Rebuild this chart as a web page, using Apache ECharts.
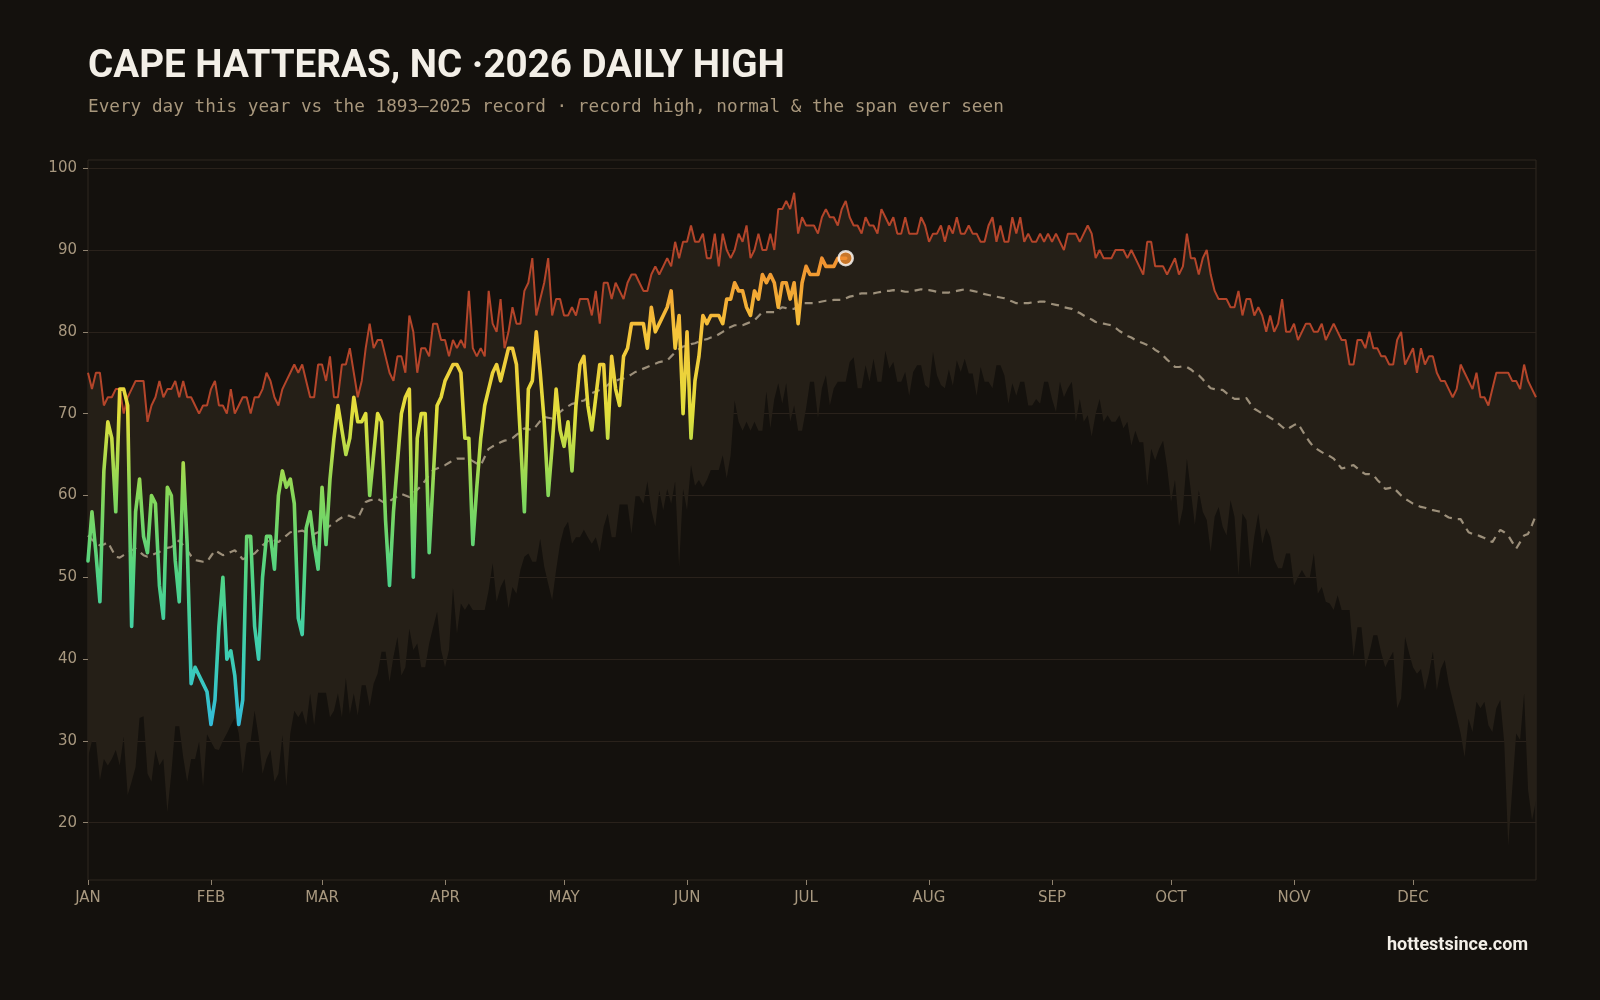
<!DOCTYPE html>
<html>
<head>
<meta charset="utf-8">
<title>Cape Hatteras, NC 2026 daily high</title>
<script src="https://cdn.jsdelivr.net/npm/echarts@6/dist/echarts.min.js"></script>
<style>
  html, body { margin: 0; padding: 0; background: #14110d; }
  #chart { width: 1600px; height: 1000px; }
</style>
</head>
<body>
<div id="chart"></div>
<script>
// month ticks on the day-of-year axis (day 0 = Jan 1)
const monthLabels = ["JAN", "FEB", "MAR", "APR", "MAY", "JUN", "JUL", "AUG", "SEP", "OCT", "NOV", "DEC"];
const monthStarts = [0, 31, 59, 90, 120, 151, 181, 212, 243, 273, 304, 334];
const yTicks = [20, 30, 40, 50, 60, 70, 80, 90, 100];

// record high for each day, 1893-2025
const recordHigh = [
  75,73,75,75,71,72,72,73,73,70, 72,73,74,74,74,69,71,72,74,72,
  73,73,74,72,74,72,72,71,70,71, 71,73,74,71,71,70,73,70,71,72,
  72,70,72,72,73,75,74,72,71,73, 74,75,76,75,76,74,72,72,76,76,
  74,77,72,72,76,76,78,75,72,74, 78,81,78,79,79,77,75,74,77,77,
  75,82,80,75,78,78,77,81,81,79, 79,77,79,78,79,78,85,78,77,78,
  77,85,81,80,84,78,80,83,81,81, 85,86,89,82,84,86,89,82,84,84,
  82,82,83,82,84,84,84,82,85,81, 86,86,84,86,85,84,86,87,87,86,
  85,85,87,88,87,88,89,88,91,89, 91,91,93,91,91,92,89,89,92,88,
  92,90,89,90,92,91,93,89,90,92, 90,90,92,90,95,95,96,95,97,92,
  94,93,93,93,92,94,95,94,94,93, 95,96,94,93,93,92,94,93,93,92,
  95,94,93,94,92,92,94,92,92,92, 94,93,91,92,92,93,91,93,92,94,
  92,92,93,92,92,91,91,93,94,91, 93,91,91,94,92,94,91,92,91,91,
  92,91,92,91,92,91,90,92,92,92, 91,92,93,92,89,90,89,89,89,90,
  90,90,89,90,89,88,87,91,91,88, 88,88,87,88,89,87,88,92,89,89,
  87,89,90,87,85,84,84,84,83,83, 85,82,84,84,82,83,82,80,82,80,
  81,84,80,80,81,79,80,81,81,80, 80,81,79,80,81,80,79,79,76,76,
  79,79,78,80,78,78,77,77,76,76, 79,80,76,77,78,75,78,76,77,77,
  75,74,74,73,72,73,76,75,74,73, 75,72,72,71,73,75,75,75,75,74,
  74,73,76,74,73,72
];

// record low daily high for each day (bottom of the span ever seen)
const recordLow = [
  28,30,30,25.2,27.8,27,27.8,28.9,27,30.5, 23.4,25,26.8,32.8,33,26,25,28.9,27,27.8,
  21.3,26,31.8,31.8,28,25,27.8,27.8,29.9,24.4, 30.8,29.9,29,28.9,30,30.9,31.9,32.8,30.9,26,
  29.7,30,33.7,30.5,26,27.8,28.9,25,26,30.7, 24.4,30.9,33.7,32.9,33.7,31.9,35.8,31.9,35.9,35.9,
  35.9,32.9,33.7,35.8,32.9,37.7,33.3,35.8,33.1,36.8, 36.8,34.2,37,38.2,40.9,40.9,37.2,40.3,42.7,38,
  39,43.7,41.1,41.9,39,39,41.9,43.9,45.8,41.1, 39,41.1,48.7,43.1,46.8,46,46.8,46,46,46,
  46,48.4,51.7,47,48.8,49.8,46.2,48.8,48,50.9, 52.5,52.9,51.9,51.9,54.7,51.3,49.2,47.2,50.9,54.1,
  56,56.8,54.1,54.9,54.9,55.8,54.9,54.1,54.9,53.1, 56.2,57.8,54.9,54.9,58.9,58.9,58.9,55.3,59.9,59.9,
  59,61.7,58.2,56.2,60.6,58.2,60.8,59,61.7,51.3, 60.8,58.2,63.7,61.2,61.9,61,61.9,63.1,63.1,63.1,
  64.9,62.1,64.9,71.6,69,67.9,69,67.9,69,67.9, 67.9,72.7,68.2,71.8,73.7,71.2,73.7,69,71,67.9,
  67.9,70.6,73.9,73.9,69.4,73.1,74.7,71,73.1,73.9, 73.9,73.9,76.3,76.9,73.1,73.1,75.9,73.9,76.7,73.9,
  73.9,77.7,75.5,76.3,73.9,73.9,75.1,72.2,75.1,75.9, 75.9,73.5,73.1,77.5,74.7,73.5,73.1,75.4,73.4,76.5,
  75.1,76.7,74.9,74.9,72.2,75.7,73.9,73.9,73.1,75.9, 75.9,74.7,71.2,73.7,72.2,73.9,73.9,71,71,71.8,
  71.2,73.9,73.9,71.8,70.2,73.9,72,73.1,73.9,69, 71.8,69,69.8,67.2,70,71.8,69,69.8,69,69,
  69.8,68.2,69,66.1,67.9,66.5,66.5,61.2,65.7,64.3, 65.7,66.7,63.5,59.2,61.9,56.2,58.4,64.5,60.5,56.4,
  60.6,58,57,53.1,57.4,58.6,56.2,55.1,59.4,57.4, 50.2,57.8,57,51,55,57.8,54.1,56,54.9,52.1,
  51.1,51.1,52.9,52.9,49,50,50.9,50,50,52.9, 48,48.8,47,46.8,46,47.8,46,46,46,40.3,
  43.9,43.9,39,40.7,42.9,42.9,40.7,39,40,40.9, 34,35.2,42.7,40.7,39,38.2,38.8,36.2,38.2,40.9,
  36.2,38.8,39.9,37,35,33,30.9,28,32.7,31.1, 34.8,34,34.8,31.9,31.1,34,35,29.7,17.2,24,
  30.9,30.1,35.8,24,20.3,22.7
];

// normal daily high
const normalHigh = [
  55.1,54.6,54.2,53.9,54.0,54.3,53.4,52.5,52.4,52.7, 53.0,53.3,53.5,53.1,52.7,52.5,52.7,52.9,53.1,53.4,
  53.6,53.7,54.1,54.5,53.9,53.3,52.6,52.1,52.0,51.9, 51.9,52.6,53.3,53.0,52.7,52.9,53.1,53.3,52.8,52.2,
  52.4,52.7,52.9,53.4,53.9,54.3,54.7,54.5,54.3,54.7, 55.1,55.5,55.6,55.6,55.7,55.5,55.4,55.3,55.5,55.7,
  55.9,56.3,56.6,57.0,57.3,57.6,57.5,57.3,57.2,58.2, 59.2,59.4,59.5,59.6,59.3,59.0,59.3,59.6,59.9,60.2,
  60.0,59.8,60.3,60.7,61.2,61.8,62.5,63.1,63.3,63.5, 63.7,64.0,64.3,64.5,64.5,64.5,64.5,64.2,63.9,63.7,
  64.7,65.7,66.0,66.2,66.5,66.7,66.8,67.0,67.4,67.8, 68.2,68.1,68.0,68.5,69.1,69.6,69.5,69.4,69.8,70.2,
  70.6,70.9,71.2,71.3,71.5,71.6,72.0,72.5,72.7,72.9, 73.1,73.5,73.9,74.0,74.2,74.3,74.5,74.8,75.1,75.3,
  75.5,75.7,75.9,76.1,76.3,76.4,76.5,77.0,77.5,77.9, 78.2,78.3,78.5,78.6,78.8,79.0,79.1,79.3,79.4,79.7,
  80.0,80.3,80.6,80.8,80.8,80.8,81.0,81.2,81.4,81.9, 82.4,82.4,82.4,82.4,82.7,83.0,82.9,82.8,82.8,83.2,
  83.5,83.5,83.5,83.5,83.6,83.7,83.8,83.8,83.9,83.9, 83.9,84.1,84.3,84.4,84.6,84.7,84.7,84.7,84.7,84.8,
  84.9,85.0,85.0,85.1,85.0,85.0,84.9,84.9,85.0,85.1, 85.2,85.1,85.1,85.0,84.9,84.8,84.8,84.8,84.9,85.0,
  85.1,85.2,85.1,85.0,84.9,84.8,84.6,84.5,84.4,84.3, 84.2,84.1,83.9,83.7,83.5,83.5,83.5,83.5,83.6,83.6,
  83.7,83.7,83.5,83.4,83.3,83.2,83.0,82.9,82.8,82.5, 82.3,82.0,81.7,81.5,81.2,81.1,81.0,80.9,80.8,80.5,
  80.1,79.8,79.5,79.3,79.0,78.8,78.6,78.4,78.2,77.8, 77.5,77.1,76.6,76.2,75.7,75.7,75.8,75.7,75.4,75.0,
  74.7,74.2,73.6,73.1,73.0,72.9,72.9,72.5,72.1,71.8, 71.8,71.9,71.9,71.2,70.6,70.3,70.0,69.8,69.5,69.2,
  68.8,68.4,68.0,68.3,68.6,68.8,68.0,67.2,66.5,65.9, 65.6,65.3,65.0,64.8,64.5,63.9,63.3,63.4,63.6,63.7,
  63.3,62.9,62.6,62.6,62.5,61.9,61.4,60.8,60.9,61.0, 60.5,60.0,59.6,59.3,59.0,58.8,58.6,58.5,58.3,58.2,
  58.1,58.0,57.6,57.3,57.2,57.1,57.1,56.3,55.5,55.3, 55.2,55.0,54.8,54.5,54.3,55.1,55.8,55.5,55.1,54.3,
  53.5,54.3,55.1,55.3,56.4,57.6
];

// 2026 daily high so far (Jan 1 .. Jul 11)
const thisYear = [
  52,58,53,47,63,69,67,58,73,73, 71,44,58,62,55,53,60,59,49,45,
  61,60,52,47,64,54,37,39,38,37, 36,32,35,44,50,40,41,38,32,35,
  55,55,44,40,50,55,55,51,60,63, 61,62,59,45,43,56,58,54,51,61,
  54,62,67,71,68,65,67,72,69,69, 70,60,65,70,69,57,49,58,64,70,
  72,73,50,67,70,70,53,62,71,72, 74,75,76,76,75,67,67,54,61,67,
  71,73,75,76,74,76,78,78,76,67, 58,73,74,80,75,69,60,66,73,68,
  66,69,63,71,76,77,71,68,72,76, 76,67,77,73,71,77,78,81,81,81,
  81,78,83,80,81,82,83,85,78,82, 70,80,67,74,77,82,81,82,82,82,
  81,84,84,86,85,85,83,82,85,84, 87,86,87,86,83,86,86,84,86,81,
  86,88,87,87,87,89,88,88,88,89, 89,89
];

const days = recordHigh.map((v, i) => i);
const lastDay = thisYear.length - 1;
const isMonthStart = i => monthStarts.indexOf(i) >= 0;

const chart = echarts.init(document.getElementById("chart"), null, { renderer: "canvas" });

const tan = "#a8987f";

const option = {
  backgroundColor: "#14110d",
  animation: false,
  grid: {
    left: 88, right: 64, top: 160, bottom: 120,
    show: true,
    borderColor: "#2f2920",
    borderWidth: 1,
    backgroundColor: "transparent",
    outerBoundsMode: "none"
  },
  graphic: [
    {
      type: "text", x: 88, y: 67,
      style: {
        text: "CAPE HATTERAS, NC \u00b72026 DAILY HIGH",
        font: "bold 38.6px Roboto",
        fill: "#f3efe7",
        textVerticalAlign: "middle"
      }
    },
    {
      type: "text", x: 88, y: 107,
      style: {
        text: "Every day this year vs the 1893\u20132025 record \u00b7 record high, normal & the span ever seen",
        font: "17.7px 'DejaVu Sans Mono'",
        fill: "#a8977c",
        textVerticalAlign: "middle"
      }
    },
    {
      type: "text", x: 1528, y: 945,
      style: {
        text: "hottestsince.com",
        font: "bold 18px Roboto",
        fill: "#f3efe7",
        textAlign: "right",
        textVerticalAlign: "middle"
      }
    }
  ],
  xAxis: {
    type: "category",
    data: days,
    boundaryGap: false,
    axisLine: { show: false },
    splitLine: { show: false },
    axisTick: {
      show: true, length: 5,
      interval: i => isMonthStart(i),
      lineStyle: { color: "#8f826f" }
    },
    axisLabel: {
      interval: i => isMonthStart(i),
      formatter: (v, i) => monthLabels[monthStarts.indexOf(i)] || "",
      color: tan,
      fontFamily: "DejaVu Sans",
      fontSize: 15,
      margin: 11
    }
  },
  yAxis: {
    type: "value",
    min: 13,
    max: 101,
    splitNumber: 8,
    axisLine: { show: false },
    axisTick: {
      show: true, length: 5,
      customValues: yTicks,
      lineStyle: { color: "#8f826f" }
    },
    axisLabel: {
      customValues: yTicks,
      color: tan,
      fontFamily: "DejaVu Sans",
      fontSize: 15,
      margin: 11
    },
    splitLine: { show: true, lineStyle: { color: "#2a221b", width: 1 } }
  },
  visualMap: {
    show: false,
    type: "continuous",
    seriesIndex: 3,
    dimension: 1,
    min: 30,
    max: 90,
    inRange: { color: ["#31b7e3", "#3ccdb4", "#4fd386", "#84d75a", "#e2df3c", "#f6c43a", "#ef8a2e"] }
  },
  series: [
    {
      name: "record low",
      type: "line",
      stack: "span",
      data: recordLow,
      symbol: "none",
      lineStyle: { width: 0, opacity: 0 },
      z: 1
    },
    {
      name: "record high",
      type: "line",
      stack: "span",
      data: recordHigh.map((v, i) => v - recordLow[i]),
      symbol: "none",
      lineStyle: { color: "#b4452a", width: 2 },
      areaStyle: { color: "#251f17", opacity: 1 },
      z: 2
    },
    {
      name: "normal",
      type: "line",
      data: normalHigh,
      symbol: "none",
      lineStyle: { color: "#9c8f7a", width: 2.2, type: [8, 6] },
      z: 3
    },
    {
      name: "2026",
      type: "line",
      data: thisYear,
      symbol: "none",
      lineStyle: { width: 3.6, cap: "round", join: "round" },
      z: 4
    },
    {
      name: "today",
      type: "scatter",
      data: [[lastDay, thisYear[lastDay]]],
      symbolSize: 14,
      itemStyle: { color: "#f08c30", borderColor: "#ffffff", borderWidth: 2.5 },
      z: 5
    }
  ]
};

chart.setOption(option);
window.onresize = function () {
  chart.resize();
};
</script>
</body>
</html>
